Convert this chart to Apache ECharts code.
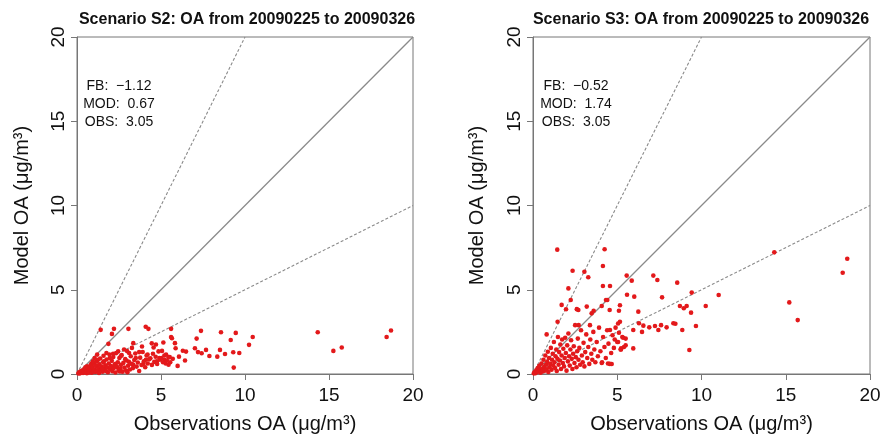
<!DOCTYPE html>
<html>
<head>
<meta charset="utf-8">
<script src="https://cdn.jsdelivr.net/npm/echarts@6/dist/echarts.min.js"></script>
<style>
  html, body { margin: 0; padding: 0; background: #fff; }
  #chart { width: 881px; height: 434px; }
</style>
</head>
<body>
<div id="chart"></div>
<script>
// 两个情景的模型/观测散点对比
const axisTicks = [0, 5, 10, 15, 20];
const panelTitles = [
  'Scenario S2: OA from 20090225 to 20090326',
  'Scenario S3: OA from 20090225 to 20090326'
];
const statLabels = ['FB:', 'MOD:', 'OBS:'];
const statsS2 = ['\u22121.12', '0.67', '3.05'];
const statsS3 = ['\u22120.52', '1.74', '3.05'];

// 参考线：1:1, 2:1, 1:2
const lineOneToOne = [[0, 0], [20, 20]];
const lineTwoToOne = [[0, 0], [10, 20]];
const lineOneToTwo = [[0, 0], [20, 10]];

// S2 [obs, model]
const pointsS2 = [
  [1.41,2.62],[2.2,2.68],[3.06,2.68],[4.09,2.8],[4.25,2.68],[5.6,2.68],[7.38,2.56],[8.57,2.48],
  [9.45,2.44],[2.08,2.38],[1.87,1.79],[5.6,2.2],[7.12,2.1],[9.15,2.02],[10.46,2.2],[10.24,1.73],
  [14.33,2.48],[18.69,2.58],[18.43,2.2],[15.26,1.37],[15.76,1.57],[9.33,0.38],[9.3,1.29],[9.66,1.25],
  [8.81,1.19],[8.35,1.03],[8.51,1.43],[7.88,1.07],[7.68,1.43],[7.42,1.23],[7.2,1.3],[7.02,1.53],
  [6.49,1.33],[6.3,1.38],[5.83,1.83],[5.87,1.53],[6.07,1.03],[5.99,0.48],[6.43,0.8],[5.14,1.87],
  [4.7,1.75],[4.45,1.82],[3.35,1.83],[3.27,1.55],[3.87,1.63],[4.56,1.57],[5.06,1.37],[5.65,2.12],
  [4.37,0.93],[4.46,0.54],[5.3,1.15],[5.45,1.0],[5.7,0.9],[5.55,0.7],[5.2,0.85],[4.9,0.95],
  [4.75,0.75],[4.2,1.15],[4.1,0.85],[3.95,0.6],[3.7,1.3],[3.5,0.95],[3.35,0.55],[3.1,1.25],
  [2.95,0.8],[2.8,1.45],[2.6,1.05],[2.45,1.35],[2.3,0.6],[2.15,1.2],[1.95,0.95],[1.75,1.25],
  [1.6,0.75],[1.2,1.15],[1.05,0.95],[0.85,0.6],[0.6,0.45],
  [0.08,0.03],[0.12,0.1],[0.18,0.04],[0.22,0.16],[0.27,0.08],[0.31,0.21],[0.36,0.06],[0.42,0.14],
  [0.44,0.29],[0.51,0.11],[0.57,0.24],[0.59,0.05],[0.63,0.38],[0.68,0.17],[0.72,0.09],[0.77,0.31],
  [0.81,0.52],[0.86,0.22],[0.88,0.07],[0.93,0.41],[0.97,0.15],[1.02,0.63],[1.06,0.27],[1.09,0.12],
  [1.14,0.48],[1.18,0.74],[1.21,0.2],[1.27,0.36],[1.31,0.06],[1.33,0.58],[1.38,0.92],[1.42,0.26],
  [1.47,0.44],[1.52,0.13],[1.56,0.69],[1.58,1.08],[1.63,0.33],[1.69,0.52],[1.72,0.18],[1.76,0.86],
  [1.81,0.39],[1.84,0.1],[1.89,0.62],[1.93,1.15],[1.97,0.28],[2.02,0.47],[2.07,0.78],[2.11,0.16],
  [2.16,1.01],[2.19,0.35],[2.24,0.57],[2.29,0.09],[2.33,1.24],[2.38,0.42],[2.43,0.7],[2.47,0.23],
  [2.52,0.95],[2.58,0.31],[2.61,0.54],[2.66,1.12],[2.71,0.14],[2.76,0.66],[2.82,0.38],[2.87,0.88],
  [2.93,0.21],[2.98,1.36],[3.04,0.49],[3.09,0.72],[3.15,0.27],[3.2,1.05],[3.26,0.6],[3.33,0.35],
  [3.41,0.83],[3.47,1.22],[3.55,0.44],[3.62,0.68],[3.7,0.18],[3.76,0.97],[3.84,0.53],[3.91,1.31],
  [3.98,0.75],[4.06,0.4],[4.14,1.1],[4.21,0.62],[4.29,0.87],[4.52,1.2],[4.6,0.72],[4.68,1.02],
  [4.77,0.6],[4.85,1.34],[4.94,0.85],[5.03,0.95],[5.12,0.7],[5.2,1.1],[5.28,0.62],[5.35,0.8],
  [5.45,0.55],[5.52,1.0],[0.5,0.4],[0.95,0.75],[1.25,0.85],[1.5,0.3],[2.55,0.15],[3.0,0.1]
];

// S3 [obs, model]
const pointsS3 = [
  [1.44,7.38],[4.25,7.4],[14.32,7.22],[18.65,6.84],[18.38,6.01],[15.21,4.25],[15.71,3.2],[4.15,6.41],
  [3.05,6.07],[2.35,6.13],[3.28,5.74],[2.1,5.08],[4.15,5.22],[4.57,5.22],[5.56,5.84],[5.86,5.54],
  [7.14,5.84],[7.38,5.58],[8.56,5.42],[9.42,4.83],[11.02,4.69],[10.25,4.04],[6.01,4.59],[5.58,4.7],
  [7.66,4.55],[5.16,4.08],[4.33,4.39],[1.7,4.1],[1.96,3.84],[2.24,4.39],[2.6,3.85],[3.19,4.0],
  [3.48,3.6],[3.6,3.75],[4.55,3.8],[5.1,3.75],[8.72,4.04],[8.95,3.9],[9.12,4.04],[9.38,3.64],
  [9.67,2.85],[8.86,2.61],[8.33,3.01],[8.45,2.98],[7.93,2.77],[7.6,2.9],[7.24,2.85],[7.44,2.61],
  [6.9,2.77],[6.55,2.87],[6.29,3.01],[5.95,2.61],[6.47,2.5],[5.95,1.52],[9.28,1.42],[5.16,3.1],
  [5.05,3.0],[5.23,1.52],[5.4,1.6],[5.5,2.1],[5.3,2.2],[5.05,1.9],[4.85,2.05],[5.2,1.45],
  [1.46,3.1],[0.81,2.35],[2.69,3.8],[2.71,2.9],[3.38,2.9],[4.08,4.04],[4.41,4.39],[4.57,2.61],
  [6.25,3.7],[4.67,0.59],[4.45,0.62],[4.1,0.7],
  [0.05,0.04],[0.1,0.12],[0.14,0.05],[0.19,0.22],[0.23,0.1],[0.28,0.35],[0.32,0.16],[0.37,0.48],
  [0.41,0.25],[0.45,0.08],[0.5,0.62],[0.54,0.3],[0.58,0.15],[0.62,0.85],[0.66,0.42],[0.7,0.2],
  [0.73,1.1],[0.77,0.55],[0.8,0.28],[0.84,0.72],[0.88,1.32],[0.91,0.12],[0.95,0.95],[0.98,0.4],
  [1.02,0.6],[1.06,1.55],[1.1,0.25],[1.13,0.85],[1.17,1.2],[1.2,0.5],[1.24,1.9],[1.27,0.7],
  [1.31,0.35],[1.34,1.05],[1.38,1.45],[1.41,0.18],[1.45,0.9],[1.48,2.2],[1.52,0.55],[1.55,1.3],
  [1.59,0.8],[1.62,1.75],[1.66,0.3],[1.7,1.1],[1.73,2.05],[1.77,0.65],[1.8,1.5],[1.84,0.45],
  [1.88,0.95],[1.91,2.15],[1.95,1.25],[1.99,0.2],[2.03,1.7],[2.07,0.75],[2.1,2.4],[2.14,1.05],
  [2.18,0.5],[2.22,1.45],[2.26,2.0],[2.3,0.9],[2.34,0.3],[2.38,1.2],[2.42,1.65],[2.46,0.65],
  [2.5,2.9],[2.54,1.0],[2.58,0.4],[2.62,1.35],[2.66,2.1],[2.7,0.85],[2.75,1.55],[2.8,0.55],
  [2.85,2.6],[2.9,1.1],[2.95,0.7],[3.0,1.85],[3.05,0.45],[3.1,1.3],[3.16,2.35],[3.22,0.95],
  [3.28,1.6],[3.34,0.6],[3.4,2.05],[3.46,1.2],[3.52,0.85],[3.58,2.5],[3.64,1.45],[3.7,0.7],
  [3.78,1.9],[3.85,1.05],[3.92,2.75],[4.0,1.35],[4.08,0.65],[4.16,2.2],[4.24,1.6],[4.32,0.95],
  [4.4,2.6],[4.48,1.8],[4.56,0.6],[4.64,1.25],[4.72,2.3],[4.8,1.55],[4.9,2.75],[5.0,1.9],
  [5.1,2.45],[5.22,1.45],[5.35,2.15],[5.5,1.7]
];

const chart = echarts.init(document.getElementById('chart'), null, { renderer: 'canvas' });

const FONT = '"Liberation Sans", Arial, Helvetica, sans-serif';
const grids = [
  { left: 77, top: 37, width: 336, height: 337 },
  { left: 533, top: 37, width: 337, height: 337 }
];

function makeXAxis(idx) {
  return {
    type: 'value', gridIndex: idx,
    min: axisTicks[0], max: axisTicks[axisTicks.length - 1], interval: 5,
    name: 'Observations OA (\u03bcg/m\u00b3)',
    nameLocation: 'middle', nameGap: 40,
    nameTextStyle: { fontFamily: FONT, fontSize: 20, color: '#111' },
    axisLine: { show: true, lineStyle: { color: '#777', width: 1 } },
    axisTick: { show: true, length: 6, lineStyle: { color: '#777' } },
    axisLabel: { fontFamily: FONT, fontSize: 19, color: '#111', margin: 12 },
    splitLine: { show: false }
  };
}

function makeYAxis(idx) {
  return {
    type: 'value', gridIndex: idx,
    min: axisTicks[0], max: axisTicks[axisTicks.length - 1], interval: 5,
    name: 'Model OA (\u03bcg/m\u00b3)',
    nameLocation: 'middle', nameGap: idx === 0 ? 45 : 46,
    nameTextStyle: { fontFamily: FONT, fontSize: 20, color: '#111' },
    axisLine: { show: true, lineStyle: { color: '#777', width: 1 } },
    axisTick: { show: true, length: 6, lineStyle: { color: '#777' } },
    axisLabel: { fontFamily: FONT, fontSize: 19, color: '#111', margin: 9, rotate: 90 },
    splitLine: { show: false }
  };
}

function refLines(idx) {
  const base = { type: 'line', xAxisIndex: idx, yAxisIndex: idx, symbol: 'none', silent: true, z: 1 };
  return [
    Object.assign({}, base, { data: lineOneToOne, lineStyle: { color: '#8a8a8a', width: 1.3 } }),
    Object.assign({}, base, { data: lineTwoToOne, lineStyle: { color: '#8a8a8a', width: 1.1, type: [3, 2] } }),
    Object.assign({}, base, { data: lineOneToTwo, lineStyle: { color: '#8a8a8a', width: 1.1, type: [3, 2] } })
  ];
}

function scatter(idx, data) {
  return {
    type: 'scatter', xAxisIndex: idx, yAxisIndex: idx,
    data: data, symbolSize: 4.6, z: 3,
    itemStyle: { color: '#e3191b', opacity: 1 }
  };
}

function statTexts(cx, values) {
  return statLabels.map((lab, i) => ({
    type: 'text', x: cx, y: 86 + i * 18,
    style: {
      text: lab + '  ' + values[i], font: '14px ' + FONT, fill: '#111',
      textAlign: 'center', textVerticalAlign: 'middle'
    }
  }));
}

const option = {
  animation: false,
  backgroundColor: '#fff',
  grid: grids.map(g => Object.assign({
    show: true, borderColor: '#777', borderWidth: 1, backgroundColor: 'transparent',
    containLabel: false, outerBoundsMode: 'none'
  }, g)),
  xAxis: [makeXAxis(0), makeXAxis(1)],
  yAxis: [makeYAxis(0), makeYAxis(1)],
  series: [
    ...refLines(0), scatter(0, pointsS2),
    ...refLines(1), scatter(1, pointsS3)
  ],
  graphic: [
    { type: 'text', x: 247, y: 20, style: { text: panelTitles[0], font: 'bold 16px ' + FONT, fill: '#111', textAlign: 'center', textVerticalAlign: 'middle' } },
    { type: 'text', x: 701, y: 20, style: { text: panelTitles[1], font: 'bold 16px ' + FONT, fill: '#111', textAlign: 'center', textVerticalAlign: 'middle' } },
    ...statTexts(119, statsS2),
    ...statTexts(576, statsS3)
  ]
};

chart.setOption(option);
</script>
</body>
</html>
